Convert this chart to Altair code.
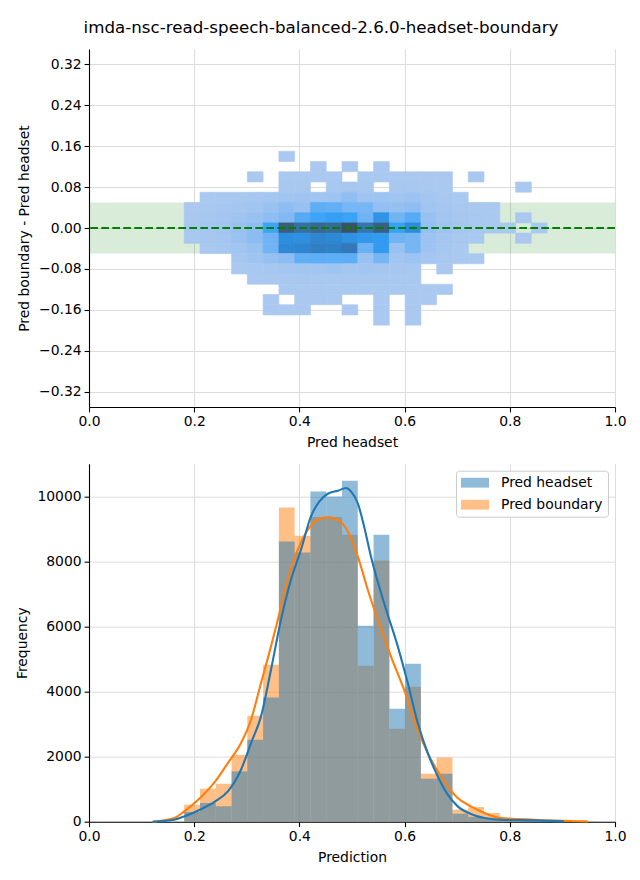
import altair as alt
import pandas as pd

FONT = "DejaVu Sans"
TITLE = "imda-nsc-read-speech-balanced-2.6.0-headset-boundary"

# ---------------- top panel: 2D histogram of (Pred headset, Pred boundary - Pred headset)
heat_x_edges = [0.181, 0.211, 0.241, 0.271, 0.301, 0.331, 0.361, 0.391, 0.421, 0.451,
                0.481, 0.511, 0.541, 0.571, 0.601, 0.631, 0.661, 0.691, 0.721, 0.751,
                0.781, 0.811, 0.841, 0.871]
heat_y_edges = [0.15, 0.13, 0.11, 0.09, 0.07, 0.05, 0.03, 0.01, -0.01, -0.03, -0.05,
                -0.07, -0.09, -0.11, -0.13, -0.15, -0.17, -0.19]
heat_counts = [
    [0, 0, 0, 0, 0, 0, 3, 0, 0, 0, 0, 0, 0, 0, 0, 0, 0, 0, 0, 0, 0, 0, 0],
    [0, 0, 0, 0, 0, 0, 0, 0, 4, 0, 3, 0, 5, 0, 0, 0, 0, 0, 0, 0, 0, 0, 0],
    [0, 0, 0, 0, 3, 0, 12, 15, 14, 10, 0, 12, 14, 10, 8, 6, 4, 0, 3, 0, 0, 0, 0],
    [0, 0, 0, 0, 0, 0, 25, 30, 0, 45, 50, 40, 0, 35, 30, 20, 12, 0, 0, 0, 0, 3, 0],
    [0, 15, 25, 40, 60, 90, 130, 150, 140, 170, 330, 160, 170, 140, 200, 90, 40, 15, 0, 0, 0, 0, 0],
    [20, 40, 60, 90, 140, 230, 380, 250, 750, 720, 560, 560, 300, 280, 380, 130, 80, 40, 20, 10, 0, 0, 0],
    [30, 60, 90, 150, 230, 380, 470, 820, 1000, 1100, 1020, 620, 1250, 600, 820, 250, 120, 60, 25, 10, 0, 4, 0],
    [40, 80, 120, 250, 380, 1000, 2250, 1900, 2050, 2000, 2500, 1800, 2200, 1050, 1400, 300, 150, 80, 40, 20, 8, 0, 3],
    [25, 50, 90, 230, 400, 620, 1350, 1320, 1500, 1450, 1300, 1200, 1150, 600, 560, 200, 90, 40, 15, 0, 0, 3, 0],
    [0, 30, 60, 130, 230, 600, 1450, 1500, 1620, 1600, 1750, 650, 1150, 230, 560, 150, 60, 20, 0, 0, 0, 0, 0],
    [0, 0, 0, 60, 150, 280, 380, 720, 760, 760, 760, 230, 560, 120, 200, 80, 40, 20, 8, 0, 0, 0, 0],
    [0, 0, 0, 20, 40, 60, 80, 110, 120, 150, 90, 100, 80, 50, 30, 0, 6, 0, 0, 0, 0, 0, 0],
    [0, 0, 0, 0, 10, 20, 30, 50, 45, 40, 40, 35, 40, 20, 10, 0, 0, 0, 0, 0, 0, 0, 0],
    [0, 0, 0, 0, 0, 0, 10, 20, 18, 15, 15, 12, 15, 10, 8, 5, 3, 0, 0, 0, 0, 0, 0],
    [0, 0, 0, 0, 0, 4, 0, 6, 5, 4, 0, 0, 6, 0, 4, 3, 0, 0, 0, 0, 0, 0, 0],
    [0, 0, 0, 0, 0, 3, 4, 3, 0, 0, 3, 0, 4, 0, 3, 0, 0, 0, 0, 0, 0, 0, 0],
    [0, 0, 0, 0, 0, 0, 0, 0, 0, 0, 0, 0, 2, 0, 2, 0, 0, 0, 0, 0, 0, 0, 0],
]
band_low, band_high = -0.05, 0.05
zero_line = [0.0]

heat_color_stops = [1, 375, 750, 1050, 1375, 1750, 2125, 2500]
heat_colors = ["#abc9f0", "#8ebdf2", "#5eaef6", "#36a2f7", "#2b8cdc", "#3378b8", "#3a6288", "#3d5068"]

# ---------------- bottom panel: overlaid histograms + KDE
hist_edges = [0.181, 0.211, 0.241, 0.271, 0.301, 0.331, 0.361, 0.391, 0.421, 0.451,
              0.481, 0.511, 0.541, 0.571, 0.601, 0.631, 0.661, 0.691, 0.721, 0.751,
              0.781, 0.811, 0.841, 0.871, 0.901, 0.931, 0.961]
headset_counts = [300, 575, 472, 1548, 2523, 3825, 8626, 8287, 10164, 10010, 10492, 6031, 8831,
                  3477, 4862, 1323, 1477, 246, 150, 80, 60, 45, 40, 25, 10, 0]
boundary_counts = [523, 1015, 1169, 2062, 3262, 4831, 9672, 8800, 9374, 9374, 8831, 4800, 8041,
                   2862, 4154, 1477, 1979, 369, 451, 267, 110, 70, 55, 35, 20, 10]

kde_headset_x = [0.121, 0.162, 0.181, 0.211, 0.240, 0.264, 0.289, 0.308, 0.327, 0.346, 0.365,
                 0.384, 0.403, 0.422, 0.438, 0.454, 0.473, 0.489, 0.498, 0.511, 0.523, 0.536,
                 0.561, 0.587, 0.606, 0.625, 0.644, 0.663, 0.682, 0.701, 0.726, 0.752, 0.783,
                 0.846, 0.903]
kde_headset_y = [0, 60, 163, 369, 625, 933, 1600, 2421, 3241, 4677, 6215, 7446, 8369, 9395,
                 9856, 10092, 10185, 10267, 10164, 9800, 9087, 8163, 6728, 5395, 4267, 3036,
                 2113, 1395, 831, 472, 236, 113, 60, 40, 10]
kde_boundary_x = [0.121, 0.162, 0.181, 0.211, 0.240, 0.264, 0.289, 0.308, 0.327, 0.346, 0.359,
                  0.378, 0.397, 0.416, 0.435, 0.454, 0.473, 0.492, 0.511, 0.530, 0.549, 0.574,
                  0.599, 0.625, 0.644, 0.663, 0.682, 0.701, 0.726, 0.752, 0.783, 0.846, 0.948]
kde_boundary_y = [0, 113, 318, 728, 1241, 1805, 2421, 3138, 4267, 5395, 6215, 7446, 8369, 8985,
                  9292, 9364, 9292, 8933, 8164, 7138, 6215, 5087, 4062, 2831, 2113, 1549, 1087,
                  728, 472, 267, 113, 60, 10]

series_names = ["Pred headset", "Pred boundary"]
series_colors = ["#1f77b4", "#ff7f0e"]

x_ticks = [0.0, 0.2, 0.4, 0.6, 0.8, 1.0]
diff_ticks = [-0.32, -0.24, -0.16, -0.08, 0.0, 0.08, 0.16, 0.24, 0.32]
freq_ticks = [0, 2000, 4000, 6000, 8000, 10000]
diff_domain = [-0.35, 0.35]
freq_domain = [0, 11017]

# ---------------- tables
heat_rows = []
for ri, row in enumerate(heat_counts):
    for ci, c in enumerate(row):
        if c > 0:
            heat_rows.append({"x0": heat_x_edges[ci], "x1": heat_x_edges[ci + 1],
                              "y0": heat_y_edges[ri + 1], "y1": heat_y_edges[ri], "count": c})
heat_df = pd.DataFrame(heat_rows)
band_df = pd.DataFrame({"x0": [0.0], "x1": [1.0], "y0": [band_low], "y1": [band_high]})
zero_df = pd.DataFrame({"y0": zero_line})

hist_rows = []
for name, counts in [("Pred boundary", boundary_counts), ("Pred headset", headset_counts)]:
    for i, c in enumerate(counts):
        hist_rows.append({"series": name, "x0": hist_edges[i], "x1": hist_edges[i + 1], "count": c})
hist_df = pd.DataFrame(hist_rows)
kde_h_df = pd.DataFrame({"x0": kde_headset_x, "count": kde_headset_y})
kde_b_df = pd.DataFrame({"x0": kde_boundary_x, "count": kde_boundary_y})

W = 526
H_TOP = 358
H_BOT = 358

xs = alt.Scale(domain=[0, 1], nice=False, zero=False)
ys_top = alt.Scale(domain=diff_domain, nice=False, zero=False)
ys_bot = alt.Scale(domain=freq_domain, nice=False, zero=False)

x_axis_top = alt.Axis(values=x_ticks, format=".1f", title="Pred headset")
y_axis_top = alt.Axis(values=diff_ticks, format=".2f", title="Pred boundary - Pred headset")
x_axis_bot = alt.Axis(values=x_ticks, format=".1f", title="Prediction")
y_axis_bot = alt.Axis(values=freq_ticks, format="d", title="Frequency")

heat_scale = alt.Scale(domain=heat_color_stops, range=heat_colors, interpolate="rgb")

band = alt.Chart(band_df).mark_rect(color="green", opacity=0.15, strokeWidth=0).encode(
    x=alt.X("x0:Q", scale=xs, axis=x_axis_top), x2="x1:Q",
    y=alt.Y("y0:Q", scale=ys_top, axis=y_axis_top), y2="y1:Q")

heat = alt.Chart(heat_df).mark_rect(strokeWidth=0.6).encode(
    x=alt.X("x0:Q", scale=xs, axis=x_axis_top), x2="x1:Q",
    y=alt.Y("y0:Q", scale=ys_top, axis=y_axis_top), y2="y1:Q",
    fill=alt.Fill("count:Q", scale=heat_scale, legend=None),
    stroke=alt.Stroke("count:Q", scale=heat_scale, legend=None))

zero = alt.Chart(zero_df).mark_rule(color="green", strokeWidth=2.1, strokeDash=[7.7, 3.3]).encode(
    y=alt.Y("y0:Q", scale=ys_top, axis=y_axis_top))

top = alt.layer(band, heat, zero).properties(width=W, height=H_TOP)

legend = alt.Legend(
    title=None, orient="top-right", offset=7,
    symbolType="M-1,-0.7L3,-0.7L3,0.7L-1,0.7Z", symbolSize=196, symbolOpacity=0.5,
    symbolStrokeWidth=0, labelFont=FONT, labelFontSize=13.9, labelColor="black",
    labelOffset=26, padding=5, rowPadding=8, strokeColor="#cccccc", fillColor="white",
    cornerRadius=3)

bars = alt.Chart(hist_df).mark_rect(opacity=0.5, strokeWidth=0).encode(
    x=alt.X("x0:Q", scale=xs, axis=x_axis_bot), x2="x1:Q",
    y=alt.Y("count:Q", scale=ys_bot, axis=y_axis_bot), y2=alt.datum(0),
    fill=alt.Fill("series:N", scale=alt.Scale(domain=series_names, range=series_colors),
                  legend=legend))

line_b = alt.Chart(kde_b_df).mark_line(color=series_colors[1], strokeWidth=2.1,
                                       interpolate="monotone").encode(
    x=alt.X("x0:Q", scale=xs, axis=x_axis_bot),
    y=alt.Y("count:Q", scale=ys_bot, axis=y_axis_bot))
line_h = alt.Chart(kde_h_df).mark_line(color=series_colors[0], strokeWidth=2.1,
                                       interpolate="monotone").encode(
    x=alt.X("x0:Q", scale=xs, axis=x_axis_bot),
    y=alt.Y("count:Q", scale=ys_bot, axis=y_axis_bot))

bottom = alt.layer(bars, line_b, line_h).properties(width=W, height=H_BOT)

chart = alt.vconcat(
    top, bottom, spacing=13.7,
    title=alt.TitleParams(text=TITLE, font=FONT, fontSize=16.7, fontWeight="normal",
                          color="black", anchor="middle", offset=12.6),
    padding={"left": 7, "top": 11, "right": 5, "bottom": 5},
    background="white",
).resolve_scale(
    fill="independent", stroke="independent", color="independent"
).resolve_legend(
    fill="independent", stroke="independent", color="independent"
).configure(font=FONT).configure_view(strokeWidth=0).configure_axis(
    domainColor="black", domainWidth=1.1, tickColor="black", tickWidth=1.1, tickSize=4.9,
    gridColor="#dcdcdc", gridWidth=1.0, labelFont=FONT, labelFontSize=13.9, labelColor="black",
    labelPadding=3, labelFlush=False, labelOverlap=False,
    titleFont=FONT, titleFontSize=13.9, titleFontWeight="normal", titleColor="black",
    titlePadding=7, zindex=1)

chart.save("out.html", embed_options={"renderer": "svg", "actions": False})
